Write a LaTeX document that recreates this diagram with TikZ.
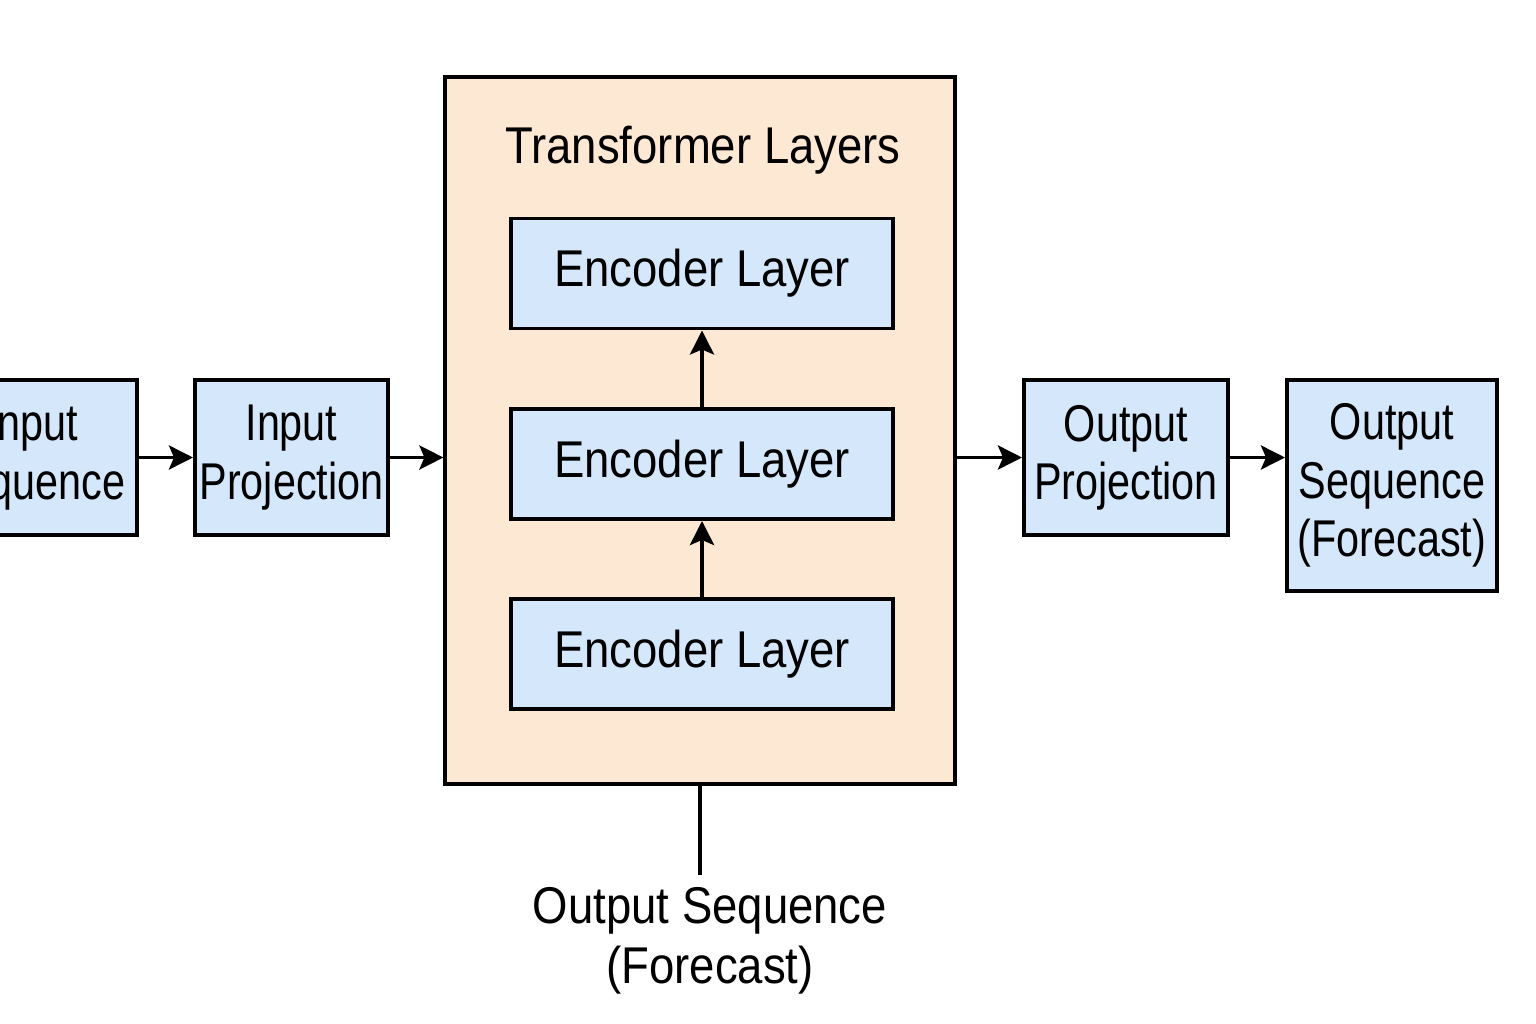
\documentclass[tikz,border=0pt]{standalone}
\usepackage{fontspec}
\usetikzlibrary{arrows.meta}
\newfontfamily\diagfont[FakeStretch=0.88]{Liberation Sans}
\newfontfamily\boxfont[FakeStretch=0.8]{Liberation Sans}
\definecolor{layerblue}{HTML}{D4E7FB}
\definecolor{stackpeach}{HTML}{FDE8D3}
\tikzset{
  block/.style={draw=black, line width=1.1pt, fill=layerblue, align=center,
    inner sep=0pt, font=\boxfont\fontsize{14.7}{16.6}\selectfont},
  encblock/.style={block, minimum width=3.82cm, minimum height=1.1cm,
    font=\diagfont\fontsize{14.7}{16.6}\selectfont},
  label/.style={align=center, font=\diagfont\fontsize{14.7}{17.2}\selectfont},
  link/.style={->, line width=1.1pt}
}
\begin{document}
\begin{tikzpicture}[x=0.01cm, y=-0.01cm, >={Stealth[length=2.4mm, width=2.4mm, inset=0.5mm]}]
\useasboundingbox (0,0) rectangle (1536,1024);
\fill[white] (0,0) rectangle (1536,1024);
\clip (0,0) rectangle (1536,1024);
% input side
\node[block, minimum width=2.1cm, minimum height=1.55cm] (inseq) at (32,457.5) {Input\\Sequence};
\node[block, minimum width=1.93cm, minimum height=1.55cm] (inproj) at (291.5,457.5) {Input\\Projection};
% transformer stack
\node[draw=black, line width=1.1pt, fill=stackpeach, minimum width=5.09cm, minimum height=7.07cm] (stack) at (700,430.5) {};
\node[label] (stacktitle) at (703,150) {Transformer Layers};
\node[encblock] (enctop) at (702,273.5) {Encoder Layer};
\node[encblock] (encmid) at (702,464) {Encoder Layer};
\node[encblock] (encbot) at (702,654) {Encoder Layer};
\draw[link] (encbot.north) -- (encmid.south);
\draw[link] (encmid.north) -- (enctop.south);
% output side
\node[block, minimum width=2.04cm, minimum height=1.55cm] (outproj) at (1126,457.5) {Output\\Projection};
\node[block, minimum width=2.1cm, minimum height=2.11cm] (outseq) at (1392,485.5) {Output\\Sequence\\(Forecast)};
\node[label] (forecast) at (710,941) {Output Sequence\\(Forecast)};
% connectors
\draw[link] (inseq.east) -- (inproj.west);
\draw[link] (inproj.east) -- (inproj.east -| stack.west);
\draw[link] (stack.east |- outproj.west) -- (outproj.west);
\draw[link] (outproj.east) -- (outproj.east -| outseq.west);
\draw[line width=1.1pt] (stack.south) -- (stack.south |- forecast.north);
\end{tikzpicture}
\end{document}
